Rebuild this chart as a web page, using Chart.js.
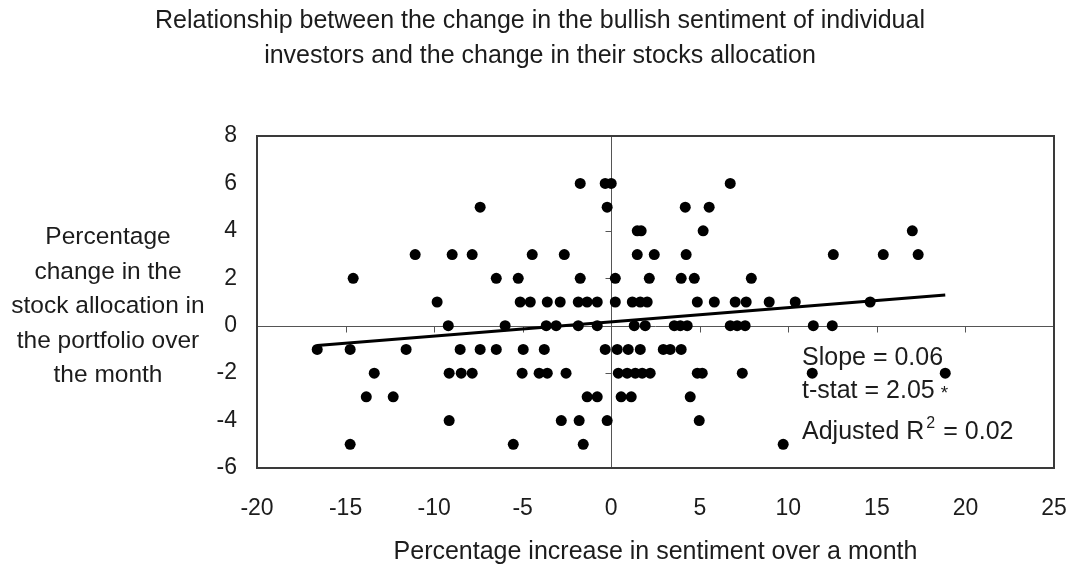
<!DOCTYPE html>
<html>
<head>
<meta charset="utf-8">
<title>Sentiment vs stock allocation</title>
<script src="https://cdn.jsdelivr.net/npm/chart.js@4.4.1/dist/chart.umd.min.js"></script>
<style>
  html, body { margin: 0; padding: 0; background: #ffffff; }
  #wrap { width: 1068px; height: 572px; position: relative; }
</style>
</head>
<body>
<div id="wrap"><canvas id="chart" width="1068" height="572"></canvas></div>
<script>
// Monthly change in bullish sentiment (%) and change in stock allocation (% points)
const sentimentChange = [
  -1.75, -0.34, 0.0, 6.72,
  -7.40, -0.23, 4.18, 5.53,
  1.47, 1.69, 5.19, 17.00,
  -11.07, -8.98, -7.85, -4.46, -2.65, 1.47, 2.43, 4.23, 12.54, 15.36, 17.33,
  -14.57, -6.49, -5.25, -1.75, 0.23, 2.15, 3.95, 4.69, 7.91,
  -9.83, -5.14, -4.57, -3.61, -2.88, -1.86, -1.36, -0.79, 0.23, 1.19, 1.64, 2.03, 4.86, 5.82, 7.00, 7.62, 8.92, 10.39, 14.62,
  -9.20, -5.99, -3.67, -3.11, -1.86, -0.79, 1.30, 1.92, 3.56, 3.90, 4.29, 6.72, 7.11, 7.56, 11.41, 12.48,
  -16.60, -14.74, -11.58, -8.53, -7.40, -6.49, -4.97, -3.78, -0.34, 0.34, 0.96, 1.64, 2.94, 3.33, 3.95,
  -13.38, -9.15, -8.47, -7.85, -5.03, -4.07, -3.61, -2.55, 0.40, 0.90, 1.36, 1.75, 2.20, 4.86, 5.14, 7.40, 11.35, 18.86,
  -13.83, -12.31, -1.36, -0.79, 0.56, 1.13, 4.46,
  -9.15, -2.82, -1.81, -0.23, 4.97,
  -14.74, -5.53, -1.58, 9.71
];
const allocationChange = [
  6, 6, 6, 6,
  5, 5, 5, 5,
  4, 4, 4, 4,
  3, 3, 3, 3, 3, 3, 3, 3, 3, 3, 3,
  2, 2, 2, 2, 2, 2, 2, 2, 2,
  1, 1, 1, 1, 1, 1, 1, 1, 1, 1, 1, 1, 1, 1, 1, 1, 1, 1, 1,
  0, 0, 0, 0, 0, 0, 0, 0, 0, 0, 0, 0, 0, 0, 0, 0,
  -1, -1, -1, -1, -1, -1, -1, -1, -1, -1, -1, -1, -1, -1, -1,
  -2, -2, -2, -2, -2, -2, -2, -2, -2, -2, -2, -2, -2, -2, -2, -2, -2, -2,
  -3, -3, -3, -3, -3, -3, -3,
  -4, -4, -4, -4, -4,
  -5, -5, -5, -5
];

// Fitted regression
const fitSlope = 0.06;
const fitIntercept = 0.16;
const tStat = 2.05;
const adjustedR2 = 0.02;

// Axis ticks
const xTickValues = [-20, -15, -10, -5, 0, 5, 10, 15, 20, 25];
const yTickValues = [-6, -4, -2, 0, 2, 4, 6, 8];

const titleLines = [
  'Relationship between the change in the bullish sentiment of individual',
  'investors and the change in their stocks allocation'
];
const yTitleLines = ['Percentage', 'change in the', 'stock allocation in', 'the portfolio over', 'the month'];
const xTitle = 'Percentage increase in sentiment over a month';

const FONT = "'Liberation Sans', Arial, Helvetica, sans-serif";
const TEXT = '#1c1c1c';

const points = sentimentChange.map((v, i) => ({ x: v, y: allocationChange[i] }));
const xMin = Math.min(...sentimentChange);
const xMax = Math.max(...sentimentChange);
const fitLine = [xMin, xMax].map(v => ({ x: v, y: fitIntercept + fitSlope * v }));

// Frame, zero axes with tick marks, and the text blocks around the plot
const chartDecor = {
  id: 'chartDecor',
  beforeDatasetsDraw(chart) {
    const { ctx, chartArea: a, scales: { x, y } } = chart;
    const x0 = Math.round(x.getPixelForValue(0)) + 0.5;
    const y0 = Math.round(y.getPixelForValue(0)) + 0.5;
    ctx.save();
    ctx.strokeStyle = '#555';
    ctx.lineWidth = 1;
    ctx.beginPath();
    ctx.moveTo(a.left, y0); ctx.lineTo(a.right, y0);
    ctx.moveTo(x0, a.top); ctx.lineTo(x0, a.bottom);
    xTickValues.forEach(t => {
      const px = Math.round(x.getPixelForValue(t)) + 0.5;
      ctx.moveTo(px, y0); ctx.lineTo(px, y0 + 6);
    });
    yTickValues.forEach(t => {
      const py = Math.round(y.getPixelForValue(t)) + 0.5;
      ctx.moveTo(x0 - 6, py); ctx.lineTo(x0, py);
    });
    ctx.stroke();
    ctx.strokeStyle = '#3a3a3a';
    ctx.lineWidth = 2;
    ctx.strokeRect(a.left, a.top, a.right - a.left, a.bottom - a.top);
    ctx.restore();
  },
  afterDraw(chart) {
    const { ctx } = chart;
    ctx.save();
    ctx.fillStyle = TEXT;
    ctx.textBaseline = 'alphabetic';

    // chart title
    ctx.font = `25px ${FONT}`;
    ctx.textAlign = 'center';
    titleLines.forEach((t, i) => ctx.fillText(t, 540, 28 + i * 35));

    // horizontal y-axis title
    ctx.font = `24.5px ${FONT}`;
    yTitleLines.forEach((t, i) => ctx.fillText(t, 108, 244 + i * 34.5));

    // regression statistics
    ctx.textAlign = 'left';
    const sx = 802;
    ctx.font = `25px ${FONT}`;
    ctx.fillText(`Slope = ${fitSlope.toFixed(2)}`, sx, 365);
    const tText = `t-stat = ${tStat.toFixed(2)}`;
    ctx.fillText(tText, sx, 398);
    const tw = ctx.measureText(tText).width;
    ctx.font = `19px ${FONT}`;
    ctx.fillText('*', sx + tw + 6, 399);
    ctx.font = `25px ${FONT}`;
    const rText = 'Adjusted R';
    ctx.fillText(rText, sx, 439);
    const rw = ctx.measureText(rText).width;
    ctx.font = `16px ${FONT}`;
    ctx.fillText('2', sx + rw + 2, 428);
    ctx.font = `25px ${FONT}`;
    ctx.fillText(`= ${adjustedR2.toFixed(2)}`, sx + rw + 19, 439);
    ctx.restore();
  }
};

new Chart(document.getElementById('chart'), {
  type: 'scatter',
  data: {
    datasets: [
      {
        type: 'line',
        data: fitLine,
        borderColor: '#000',
        borderWidth: 3,
        pointRadius: 0,
        fill: false,
        order: 1
      },
      {
        data: points,
        backgroundColor: '#000',
        borderWidth: 0,
        pointRadius: 5.5,
        order: 0
      }
    ]
  },
  options: {
    responsive: false,
    animation: false,
    devicePixelRatio: 1,
    layout: { padding: { top: 136, right: 14, left: 0, bottom: 0 } },
    plugins: {
      legend: { display: false },
      tooltip: { enabled: false },
      title: { display: false }
    },
    scales: {
      x: {
        type: 'linear',
        position: 'bottom',
        min: -20,
        max: 25,
        grid: { display: false, drawTicks: false },
        border: { display: false },
        afterBuildTicks: s => { s.ticks = xTickValues.map(v => ({ value: v })); },
        afterFit: s => { s.height = 104; s.paddingLeft = 0; s.paddingRight = 0; },
        ticks: {
          autoSkip: false,
          maxRotation: 0,
          padding: 27,
          color: TEXT,
          font: { family: FONT, size: 23 }
        },
        title: {
          display: true,
          text: xTitle,
          color: TEXT,
          font: { family: FONT, size: 25 },
          padding: { top: 0, bottom: 5 }
        }
      },
      y: {
        type: 'linear',
        min: -6,
        max: 8,
        grid: { display: false, drawTicks: false },
        border: { display: false },
        afterBuildTicks: s => { s.ticks = yTickValues.map(v => ({ value: v })); },
        afterFit: s => { s.width = 257; },
        ticks: {
          padding: 20,
          color: TEXT,
          font: { family: FONT, size: 23 }
        }
      }
    }
  },
  plugins: [chartDecor]
});
</script>
</body>
</html>
